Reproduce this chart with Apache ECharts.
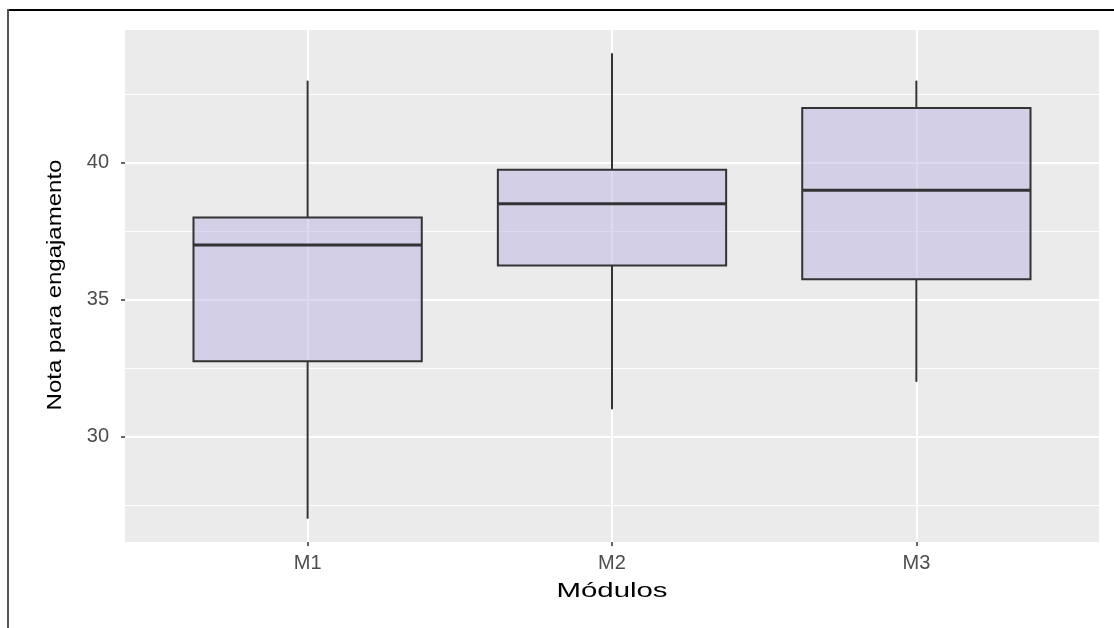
<!DOCTYPE html>
<html><head><meta charset="utf-8">
<script src="https://cdn.jsdelivr.net/npm/echarts@6/dist/echarts.min.js"></script>
<style>html,body{margin:0;padding:0;background:#fff}#c{width:1114px;height:628px}</style>
</head><body><div id="c"></div>
<script>
const categories = ['M1', 'M2', 'M3'];
const whiskerLow = [27, 31, 32];
const q1 = [32.75, 36.25, 35.75];
const median = [37, 38.5, 39];
const q3 = [38, 39.75, 42];
const whiskerHigh = [43, 44, 43];
const yTicks = [30, 35, 40];
const xTicks = [1, 2, 3];
const yRange = [26.15, 44.85];
const xRange = [0.4, 3.6];
const xTitle = 'Módulos';
const yTitle = 'Nota para engajamento';

const data = categories.map((c, i) => [i + 1, whiskerLow[i], q1[i], median[i], q3[i], whiskerHigh[i]]);

function renderItem(params, api) {
  const x = api.value(0);
  const pLow = api.coord([x, api.value(1)]);
  const pQ1 = api.coord([x, api.value(2)]);
  const pMed = api.coord([x, api.value(3)]);
  const pQ3 = api.coord([x, api.value(4)]);
  const pHigh = api.coord([x, api.value(5)]);
  const w = api.size([0.75, 0])[0];
  const cx = pMed[0];
  const stroke = '#333333';
  return {
    type: 'group',
    children: [
      { type: 'line', shape: { x1: cx, y1: pQ3[1], x2: cx, y2: pHigh[1] }, style: { stroke: stroke, lineWidth: 2 } },
      { type: 'line', shape: { x1: cx, y1: pQ1[1], x2: cx, y2: pLow[1] }, style: { stroke: stroke, lineWidth: 2 } },
      { type: 'rect', shape: { x: cx - w / 2, y: pQ3[1], width: w, height: pQ1[1] - pQ3[1] },
        style: { fill: 'rgba(188,180,226,0.5)', stroke: stroke, lineWidth: 2 } },
      { type: 'line', shape: { x1: cx - w / 2, y1: pMed[1], x2: cx + w / 2, y2: pMed[1] }, style: { stroke: stroke, lineWidth: 3 } }
    ]
  };
}

const chart = echarts.init(document.getElementById('c'), null, { renderer: 'canvas' });
chart.setOption({
  animation: false,
  backgroundColor: '#ffffff',
  grid: { left: 125, right: 15, top: 30, bottom: 86, show: true, backgroundColor: '#EBEBEB', borderWidth: 0 },
  xAxis: {
    type: 'value', min: xRange[0], max: xRange[1], splitNumber: 3,
    axisLine: { show: false },
    axisTick: { show: true, customValues: xTicks, length: 4, lineStyle: { color: '#333333', width: 1.5 } },
    axisLabel: { customValues: xTicks, formatter: v => categories[Math.round(v) - 1] || '',
      color: '#4D4D4D', fontSize: 20, fontFamily: '"Liberation Sans", Arial, sans-serif', margin: 11 },
    splitLine: { show: true, lineStyle: { color: '#ffffff', width: 2 } },
    minorSplitLine: { show: false }
  },
  yAxis: {
    type: 'value', min: yRange[0], max: yRange[1], splitNumber: 4,
    axisLine: { show: false },
    axisTick: { show: true, customValues: yTicks, length: 4, lineStyle: { color: '#333333', width: 1.5 } },
    axisLabel: { customValues: yTicks, color: '#4D4D4D', fontSize: 20,
      fontFamily: '"Liberation Sans", Arial, sans-serif', margin: 16 },
    splitLine: { show: true, lineStyle: { color: '#ffffff', width: 2 } },
    minorTick: { show: false, splitNumber: 2 },
    minorSplitLine: { show: true, lineStyle: { color: '#ffffff', width: 1 } }
  },
  series: [{
    type: 'custom',
    renderItem: renderItem,
    encode: { x: 0, y: [1, 2, 3, 4, 5] },
    data: data,
    silent: true
  }],
  graphic: [
    { type: 'line', shape: { x1: 7, y1: 10, x2: 1114, y2: 10 }, style: { stroke: '#000000', lineWidth: 2 }, silent: true },
    { type: 'line', shape: { x1: 8, y1: 9, x2: 8, y2: 628 }, style: { stroke: '#555555', lineWidth: 2 }, silent: true },
    { type: 'text', x: 612, y: 591, scaleX: 1.4,
      style: { text: xTitle, font: '21px "Liberation Sans", Arial, sans-serif', fill: '#000000', align: 'center', verticalAlign: 'middle' } },
    { type: 'text', x: 55, y: 285, rotation: Math.PI / 2, scaleX: 1.2,
      style: { text: yTitle, font: '20px "Liberation Sans", Arial, sans-serif', fill: '#000000', align: 'center', verticalAlign: 'middle' } }
  ]
});
</script>
</body></html>
